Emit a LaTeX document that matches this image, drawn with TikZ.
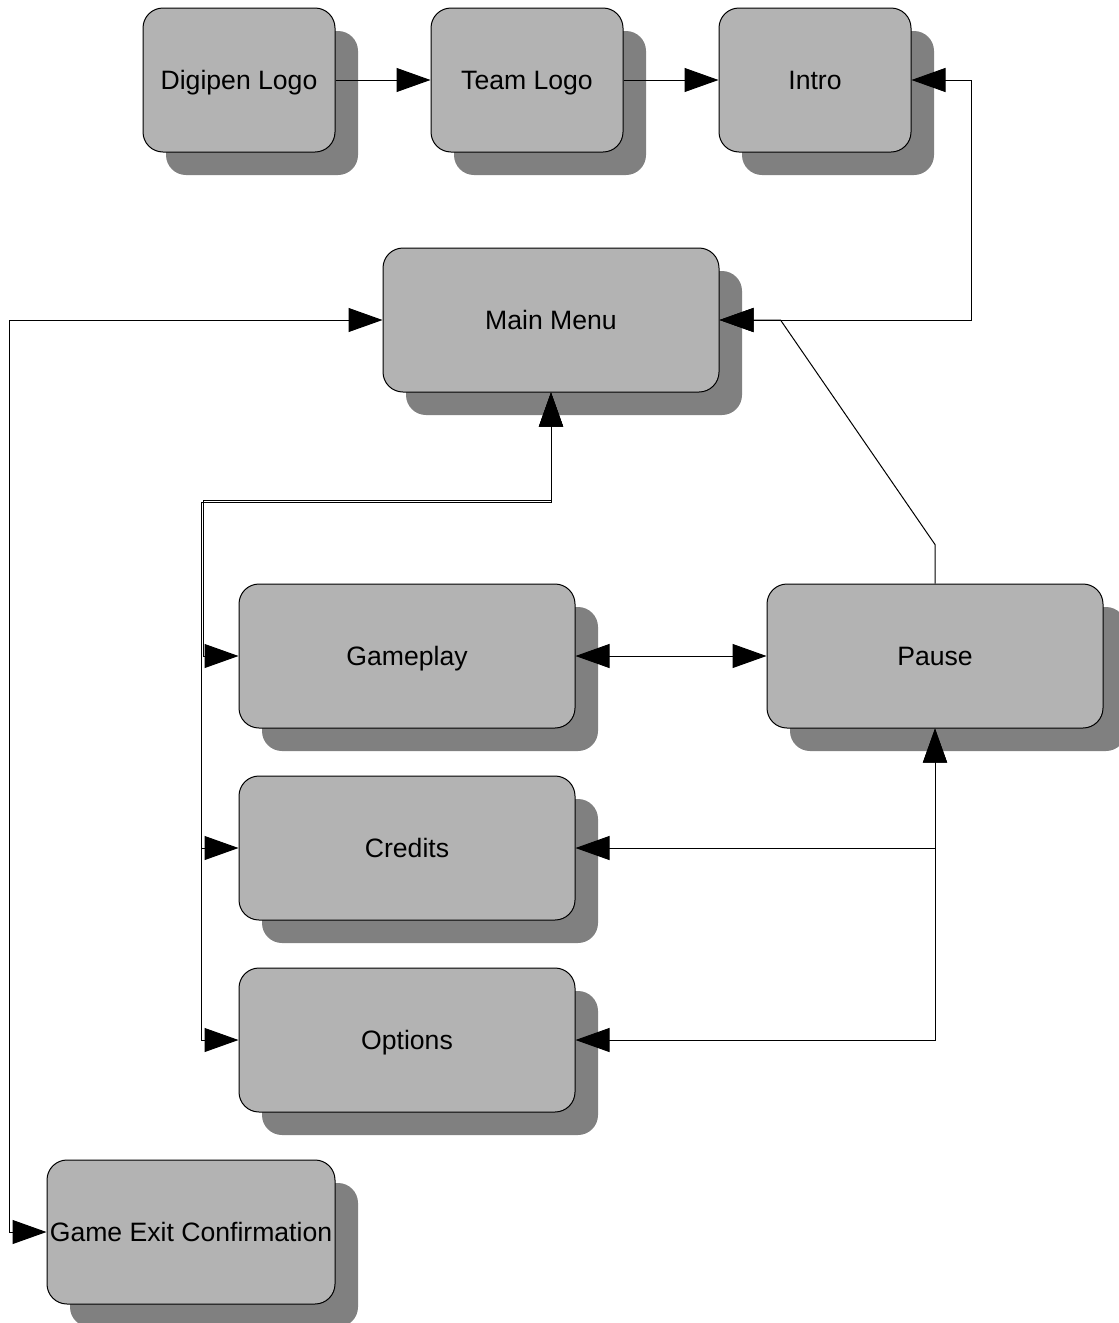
\documentclass[tikz,border=0pt]{standalone}
\usepackage{fontspec}
\setmainfont{Liberation Sans}
\usetikzlibrary{arrows.meta,shadows}
\definecolor{boxgray}{HTML}{B3B3B3}
\definecolor{shadowgray}{HTML}{808080}
\begin{document}
\begin{tikzpicture}[x=1pt, y=-1pt, node distance=288pt]
  % Define styles
  \tikzstyle{screen}=[rectangle, rounded corners=20pt, draw=black, line width=1pt, fill=boxgray,
    minimum width=192pt, minimum height=144pt, inner sep=0pt,
    text height=19pt, text depth=0pt,
    font=\fontsize{26.6}{32}\selectfont,
    drop shadow={shadow xshift=23pt, shadow yshift=-23pt, fill=shadowgray, opacity=1}]
  \tikzstyle{wide}=[screen, minimum width=336pt]
  \tikzstyle{flow}=[-{Triangle[length=34pt, width=24pt]}, line width=1pt]
  \tikzstyle{twoway}=[{Triangle[length=34pt, width=24pt]}-{Triangle[length=34pt, width=24pt]}, line width=1pt]

  \useasboundingbox (0,0) rectangle (1119,1323);

  % Screens
  \node[screen] (digipen) at (239,80) {Digipen Logo};
  \node[screen, right of=digipen] (team) {Team Logo};
  \node[screen, right of=team] (intro) {Intro};
  \node[wide] (mainmenu) at (551,320) {Main Menu};
  \node[wide] (gameplay) at (407,656) {Gameplay};
  \node[wide, right of=gameplay, node distance=528pt] (pause) {Pause};
  \node[wide, below of=gameplay, node distance=192pt] (credits) {Credits};
  \node[wide, below of=credits, node distance=192pt] (options) {Options};
  \node[screen, minimum width=288pt] (exit) at (191,1232) {Game Exit Confirmation};

  % Transitions
  \draw[flow] (digipen) -- (team);
  \draw[flow] (team) -- (intro);
  \draw[twoway] (mainmenu.east) -- ++(252,0) |- (intro.east);
  \draw[flow] (pause.north) -- ++(0,-39) -- ([xshift=61pt]mainmenu.east) -- (mainmenu.east);
  \draw[twoway] (mainmenu.south) |- ++(-348,108) |- (gameplay.west);
  \draw[twoway] (mainmenu.south) |- ++(-350,110) |- (credits.west);
  \draw[twoway] (mainmenu.south) |- ++(-350,110) |- (options.west);
  \draw[twoway] (mainmenu.west) -- ++(-373,0) |- (exit.west);
  \draw[twoway] (gameplay.east) -- (pause.west);
  \draw[twoway] (pause.south) |- (credits.east);
  \draw[twoway] (pause.south) |- (options.east);
\end{tikzpicture}
\end{document}
